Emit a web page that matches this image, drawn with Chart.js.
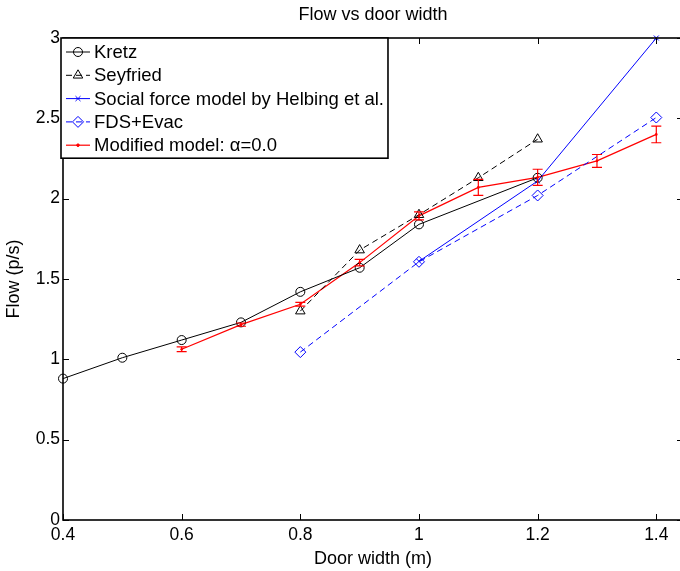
<!DOCTYPE html>
<html lang="en">
<head>
    <meta charset="UTF-8">
    <title>Flow vs door width</title>
    <style>
        html, body {
            margin: 0;
            padding: 0;
            background: #fff;
            overflow: hidden;
        }
        #wrap {
            width: 690px;
            height: 571px;
        }
    </style>
</head>
<body>
    <div id="wrap"><canvas id="flow-chart" width="690" height="571"></canvas></div>

    <script src="https://cdn.jsdelivr.net/npm/chart.js"></script>
    <script>
        // Tick labels
        const xTicks = [0.4, 0.6, 0.8, 1.0, 1.2, 1.4];
        const yTicks = [0, 0.5, 1, 1.5, 2, 2.5, 3];

        // Kretz
        const kretzX = [0.4, 0.5, 0.6, 0.7, 0.8, 0.9, 1.0, 1.2];
        const kretzY = [0.88, 1.01, 1.12, 1.23, 1.42, 1.57, 1.84, 2.13];

        // Seyfried
        const seyfriedX = [0.8, 0.9, 1.0, 1.1, 1.2];
        const seyfriedY = [1.30, 1.68, 1.90, 2.13, 2.37];

        // Social force model by Helbing et al.
        const helbingX = [1.0, 1.2, 1.4];
        const helbingY = [1.61, 2.11, 3.0];

        // FDS+Evac
        const fdsX = [0.8, 1.0, 1.2, 1.4];
        const fdsY = [1.045, 1.607, 2.02, 2.505];

        // Modified model, alpha = 0.0 (with error bars)
        const modX = [0.6, 0.7, 0.8, 0.9, 1.0, 1.1, 1.2, 1.3, 1.4];
        const modY = [1.063, 1.216, 1.343, 1.602, 1.893, 2.07, 2.133, 2.235, 2.40];
        const modErr = [0.015, 0.01, 0.012, 0.02, 0.025, 0.05, 0.05, 0.04, 0.052];

        const FONT = "'Liberation Sans', Arial, Helvetica, sans-serif";
        Chart.defaults.font.family = FONT;
        Chart.defaults.color = '#000';

        function pts(xs, ys) {
            return xs.map((x, i) => ({ x: x, y: ys[i] }));
        }

        // inward ticks and the axes box, MATLAB style
        const frameTicks = {
            id: 'frameTicks',
            afterDatasetsDraw(chart) {
                const ctx = chart.ctx;
                const a = chart.chartArea;
                const xs = chart.scales.x, ys = chart.scales.y;
                const len = 6;
                ctx.save();
                ctx.strokeStyle = '#000';
                ctx.lineWidth = 1;
                ctx.beginPath();
                xTicks.forEach(v => {
                    const px = Math.round(xs.getPixelForValue(v)) + 0.5;
                    ctx.moveTo(px, a.bottom); ctx.lineTo(px, a.bottom - len);
                    ctx.moveTo(px, a.top); ctx.lineTo(px, a.top + len);
                });
                yTicks.forEach(v => {
                    const py = Math.round(ys.getPixelForValue(v)) + 0.5;
                    ctx.moveTo(a.left, py); ctx.lineTo(a.left + len, py);
                    ctx.moveTo(a.right, py); ctx.lineTo(a.right - len, py);
                });
                ctx.stroke();
                ctx.lineWidth = 1.6;
                ctx.strokeRect(a.left, a.top, a.right - a.left, a.bottom - a.top);
                ctx.restore();
            }
        };

        // error bars for the modified model
        const errorBars = {
            id: 'errorBars',
            afterDatasetsDraw(chart) {
                const ctx = chart.ctx;
                const xs = chart.scales.x, ys = chart.scales.y;
                const cap = 5;
                ctx.save();
                ctx.strokeStyle = '#ff0000';
                ctx.lineWidth = 1.2;
                ctx.beginPath();
                modX.forEach((x, i) => {
                    const px = xs.getPixelForValue(x);
                    const top = ys.getPixelForValue(modY[i] + modErr[i]);
                    const bot = ys.getPixelForValue(modY[i] - modErr[i]);
                    ctx.moveTo(px, top); ctx.lineTo(px, bot);
                    ctx.moveTo(px - cap, top); ctx.lineTo(px + cap, top);
                    ctx.moveTo(px - cap, bot); ctx.lineTo(px + cap, bot);
                });
                ctx.stroke();
                ctx.restore();
            }
        };

        // legend box in the upper left corner
        const boxLegend = {
            id: 'boxLegend',
            afterDraw(chart) {
                const ctx = chart.ctx;
                const a = chart.chartArea;
                const sets = chart.data.datasets;
                const left = a.left - 2, top = a.top;
                const rowH = 23.3, firstRow = 14;
                const lineX0 = left + 5, lineX1 = left + 29, textX = left + 33;
                ctx.save();
                ctx.font = '18.5px ' + FONT;
                let maxW = 0;
                sets.forEach(d => { maxW = Math.max(maxW, ctx.measureText(d.label).width); });
                const w = textX - left + maxW + 4;
                const h = firstRow + rowH * (sets.length - 1) + 13;
                ctx.fillStyle = '#fff';
                ctx.fillRect(left, top, w, h);
                ctx.strokeStyle = '#000';
                ctx.lineWidth = 1.6;
                ctx.strokeRect(left, top, w, h);

                sets.forEach((d, i) => {
                    const y = top + firstRow + rowH * i;
                    ctx.strokeStyle = d.borderColor;
                    ctx.lineWidth = d.borderWidth;
                    ctx.setLineDash(d.borderDash || []);
                    ctx.beginPath();
                    ctx.moveTo(lineX0, y); ctx.lineTo(lineX1, y);
                    ctx.stroke();
                    ctx.setLineDash([]);
                    ctx.fillStyle = d.pointBackgroundColor;
                    ctx.strokeStyle = d.pointBorderColor;
                    ctx.lineWidth = 1;
                    Chart.helpers.drawPoint(ctx, {
                        pointStyle: d.pointStyle,
                        radius: d.pointRadius,
                        rotation: 0,
                        borderWidth: 1
                    }, (lineX0 + lineX1) / 2, y);
                    ctx.fillStyle = '#000';
                    ctx.textBaseline = 'middle';
                    ctx.textAlign = 'left';
                    ctx.fillText(d.label, textX, y + 1);
                });
                ctx.restore();
            }
        };

        const tickText = v => String(+v.toFixed(2));

        const ctx = document.getElementById('flow-chart').getContext('2d');
        const flowChart = new Chart(ctx, {
            type: 'line',
            data: {
                datasets: [
                    {
                        label: 'Kretz',
                        data: pts(kretzX, kretzY),
                        borderColor: '#000',
                        borderWidth: 1,
                        pointStyle: 'circle',
                        pointRadius: 4.5,
                        pointBorderColor: '#000',
                        pointBackgroundColor: 'rgba(0,0,0,0)',
                        pointBorderWidth: 1
                    },
                    {
                        label: 'Seyfried',
                        data: pts(seyfriedX, seyfriedY),
                        borderColor: '#000',
                        borderWidth: 1,
                        borderDash: [6, 4],
                        pointStyle: 'triangle',
                        pointRadius: 5.5,
                        pointBorderColor: '#000',
                        pointBackgroundColor: 'rgba(0,0,0,0)',
                        pointBorderWidth: 1
                    },
                    {
                        label: 'Social force model by Helbing et al.',
                        data: pts(helbingX, helbingY),
                        borderColor: '#0000ff',
                        borderWidth: 1,
                        pointStyle: 'crossRot',
                        pointRadius: 3.5,
                        pointBorderColor: '#0000ff',
                        pointBackgroundColor: 'rgba(0,0,0,0)',
                        pointBorderWidth: 1
                    },
                    {
                        label: 'FDS+Evac',
                        data: pts(fdsX, fdsY),
                        borderColor: '#0000ff',
                        borderWidth: 1,
                        borderDash: [6, 4],
                        pointStyle: 'rectRot',
                        pointRadius: 5.5,
                        pointBorderColor: '#0000ff',
                        pointBackgroundColor: 'rgba(0,0,0,0)',
                        pointBorderWidth: 1
                    },
                    {
                        label: 'Modified model: \u03b1=0.0',
                        data: pts(modX, modY),
                        borderColor: '#ff0000',
                        borderWidth: 1.2,
                        pointStyle: 'circle',
                        pointRadius: 1.3,
                        pointBorderColor: '#ff0000',
                        pointBackgroundColor: '#ff0000',
                        pointBorderWidth: 0
                    }
                ]
            },
            options: {
                responsive: false,
                animation: false,
                devicePixelRatio: 1,
                layout: { padding: { left: 0, right: 7, top: 0, bottom: 0 } },
                elements: { line: { tension: 0, fill: false } },
                datasets: { line: { clip: false } },
                plugins: {
                    legend: { display: false },
                    tooltip: { enabled: false },
                    title: {
                        display: true,
                        text: 'Flow vs door width',
                        fullSize: false,
                        color: '#000',
                        font: { size: 18, weight: 'normal' },
                        padding: { top: 4, bottom: 12.4 }
                    }
                },
                scales: {
                    x: {
                        type: 'linear',
                        min: 0.4,
                        max: 1.445,
                        afterBuildTicks: s => { s.ticks = xTicks.map(v => ({ value: v })); },
                        afterFit: s => { s.height = 51; },
                        grid: { display: false, drawTicks: false },
                        border: { display: false },
                        ticks: {
                            callback: tickText,
                            font: { size: 17.5 },
                            color: '#000',
                            padding: 5,
                            maxRotation: 0
                        },
                        title: {
                            display: true,
                            text: 'Door width (m)',
                            color: '#000',
                            font: { size: 18 },
                            padding: { top: 0, bottom: 1 }
                        }
                    },
                    y: {
                        min: 0,
                        max: 3,
                        afterBuildTicks: s => { s.ticks = yTicks.map(v => ({ value: v })); },
                        afterFit: s => { s.width = 63; },
                        grid: { display: false, drawTicks: false },
                        border: { display: false },
                        ticks: {
                            callback: tickText,
                            font: { size: 17.5 },
                            color: '#000',
                            padding: 3
                        },
                        title: {
                            display: true,
                            text: 'Flow (p/s)',
                            color: '#000',
                            font: { size: 18 },
                            padding: { top: 3, bottom: 0 }
                        }
                    }
                }
            },
            plugins: [errorBars, frameTicks, boxLegend]
        });
    </script>
</body>
</html>
